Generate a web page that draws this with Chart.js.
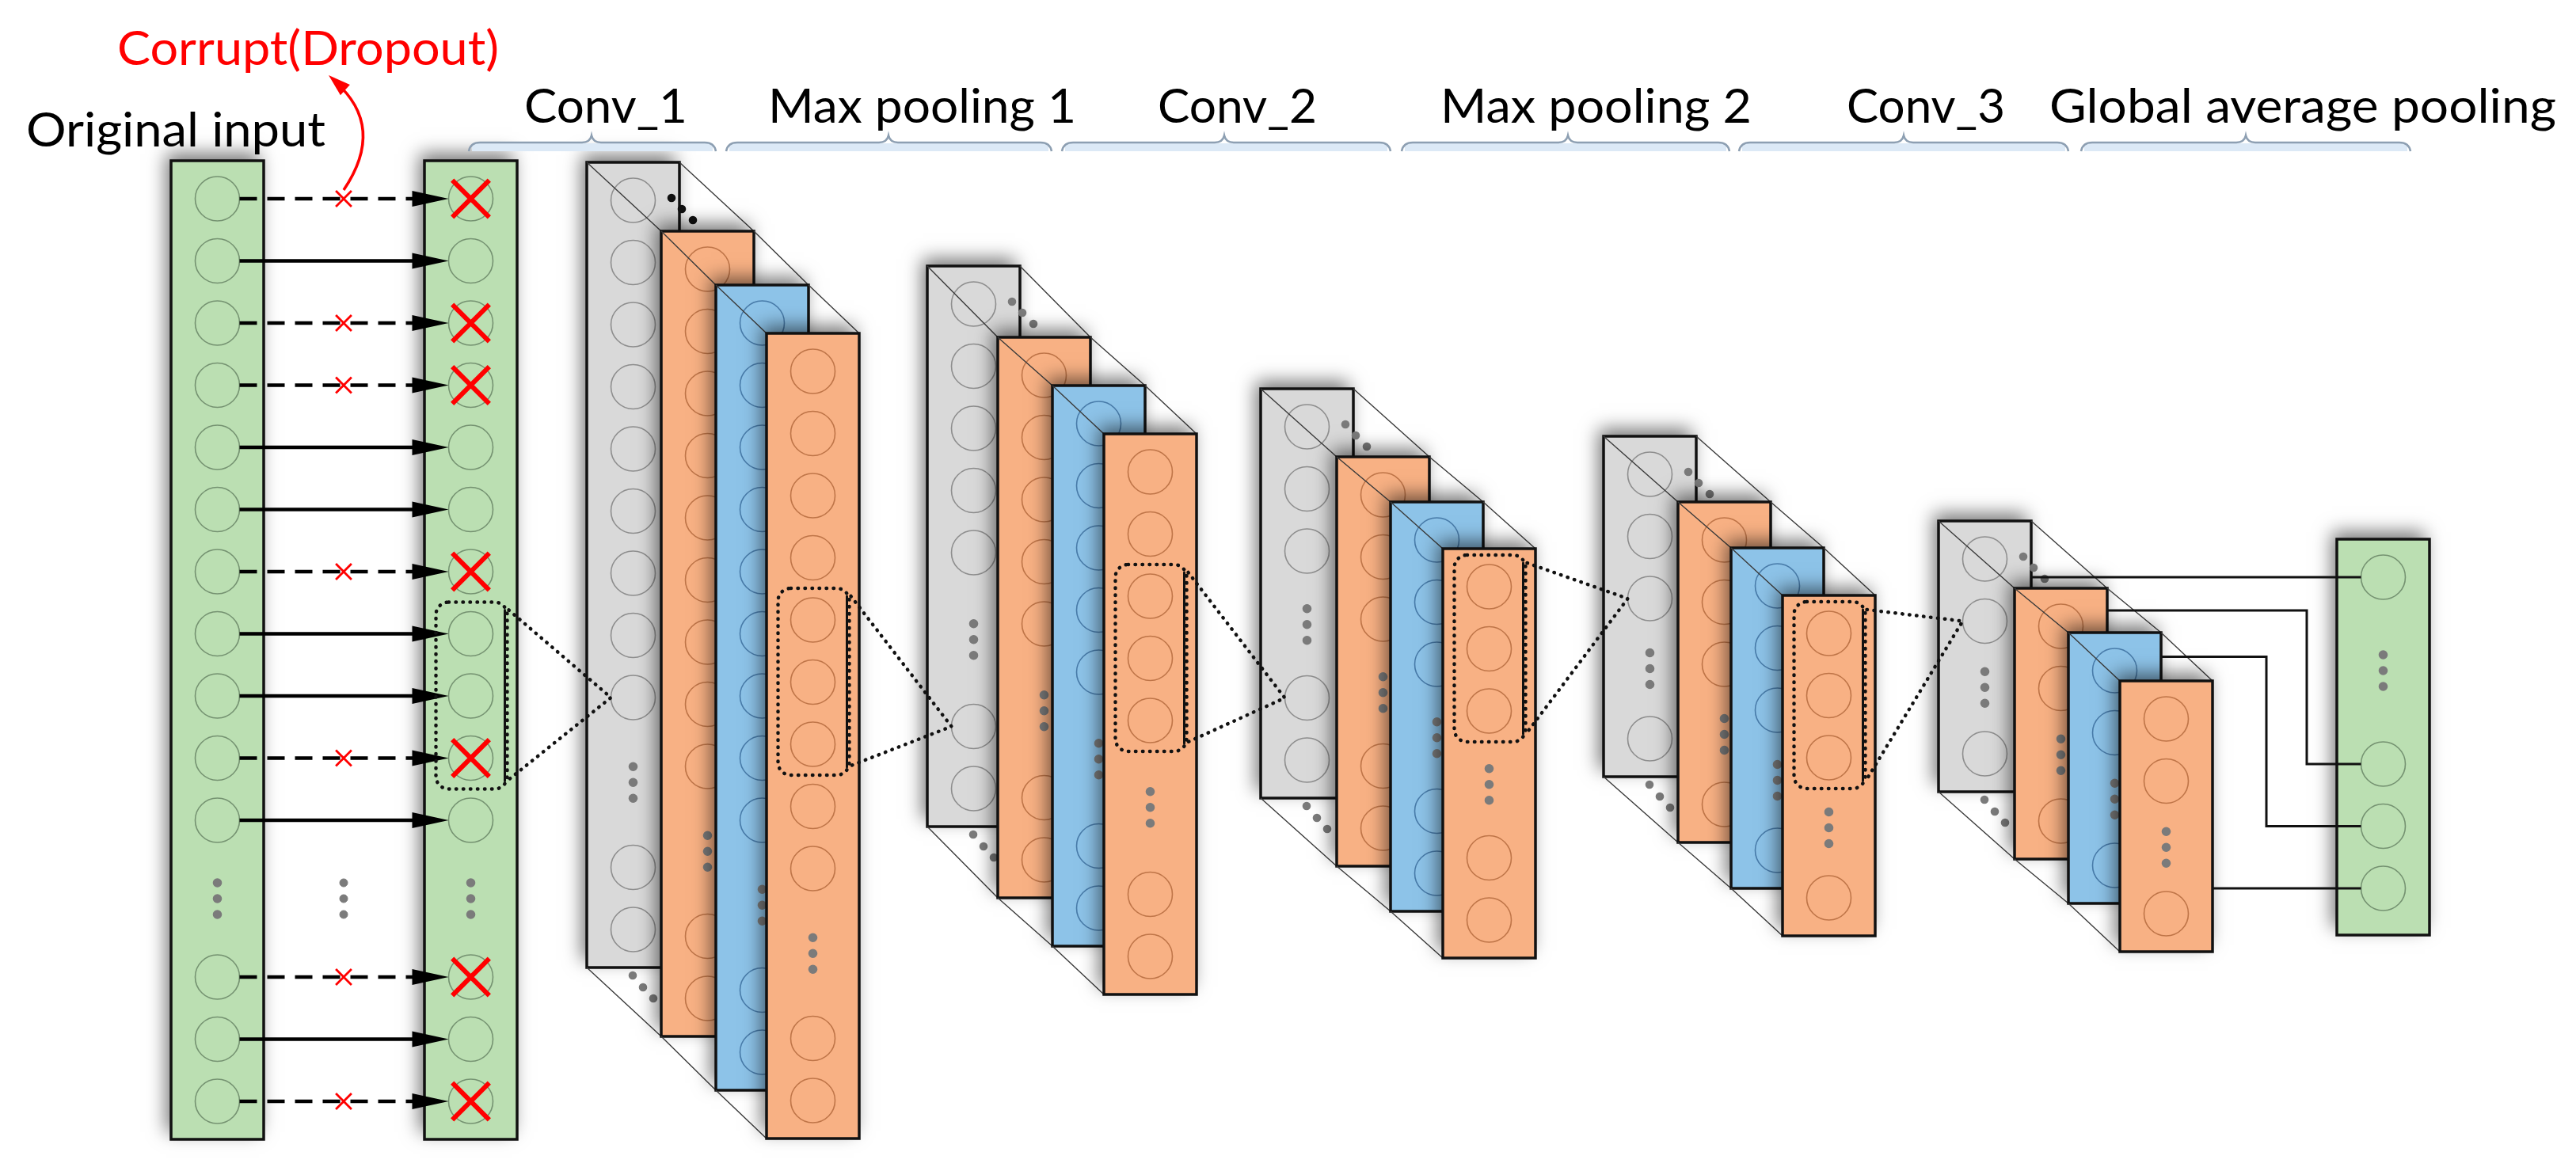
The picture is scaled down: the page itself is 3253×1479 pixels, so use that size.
<!DOCTYPE html>
<html>
<head>
<meta charset="utf-8">
<script src="https://cdn.jsdelivr.net/npm/chart.js@4.4.1/dist/chart.umd.min.js"></script>
<style>
html, body { margin: 0; padding: 0; background: #fff; overflow: hidden; }
canvas { display: block; }
</style>
</head>
<body>
<canvas id="net" width="3253" height="1479"></canvas>
<script>
'use strict';

// ---- what the figure shows ----
const headerLabels = ['Conv_1', 'Max pooling 1', 'Conv_2', 'Max pooling 2', 'Conv_3', 'Global average pooling'];
const inputLabel = 'Original input';
const corruptLabel = 'Corrupt(Dropout)';
const dropMask = [1, 0, 1, 1, 0, 0, 1, 0, 0, 1, 0, 1, 0, 1]; // 1 = node dropped
const inputNodes = [11, 3];                  // nodes above / below the dots
const layerKinds = ['gray', 'orange', 'blue', 'orange'];
const stackNodes = [[9, 2], [5, 2], [3, 2], [3, 1], [2, 1]];
const gapNodes = [1, 3];
const fieldFrom = [7, 4, 2, 0, 0];           // first of three nodes in the front map
const fieldTo = [8, 5, 3, 2, 1];             // node of the next grey map
const gapLinkLayer = [0, 1, 2, 3];
const gapLinkNode = [0, 1, 2, 3];

// ---- layout, in sheet pixels ----
const W = 3253, H = 1479;
const COL_W = 117, NODE_R = 28, NODE_GAP = 78.5, NODE_PAD = 48;
const inputBox = { x: 216, top: 203, bottom: 1439 };
const dropBox = { x: 536, top: 203, bottom: 1439 };
const markX = 434;
const stackX = [741, 1171, 1592, 2025, 2448];
const stackTop = [205, 336, 491, 551, 658];
const stackH = [1017, 708, 517, 430, 342];
const stackDX = [[0, 94, 163, 227], [0, 89, 158, 223], [0, 96, 164, 230], [0, 94, 161, 226], [0, 96, 164, 229]];
const stackDY = [[0, 87, 155, 216], [0, 90, 151, 212], [0, 86, 143, 202], [0, 83, 141, 201], [0, 85, 141, 202]];
const gapBox = { x: 2951, top: 681, bottom: 1181, padBottom: 59 };
const gapTurnX = [null, 2913, 2862, null];
const headerSpan = [[662, 868], [970, 1359], [1462, 1663], [1819, 2212], [2332, 2532], [2588, 3228]];
const braceSpan = [[592, 747, 904], [917, 1122, 1328], [1341, 1546, 1756], [1770, 1980, 2184], [2196, 2404, 2612], [2628, 2836, 3044]];

const STYLE = {
  fill: { green: '#bbdfb2', gray: '#d9d9d9', orange: '#f8b184', blue: '#8dc3e8' },
  ring: { green: 'rgba(70,95,70,0.6)', gray: 'rgba(80,80,80,0.55)', orange: 'rgba(160,85,40,0.65)', blue: 'rgba(35,85,135,0.65)' },
  dots: '#7b7b7b',
  font: 'Lato, "Open Sans", sans-serif'
};

function nodeYs(box, nodes) {
  const ys = [];
  for (let k = 0; k < nodes[0]; k++) ys.push(box.top + NODE_PAD + k * NODE_GAP);
  const pb = box.padBottom || NODE_PAD;
  for (let k = 0; k < nodes[1]; k++) ys.push(box.bottom - pb - (nodes[1] - 1 - k) * NODE_GAP);
  return { ys, dotsY: (ys[nodes[0] - 1] + ys[nodes[0]]) / 2 };
}

function columnDataset(box, nodes, kind) {
  const cx = box.x + COL_W / 2;
  const { ys, dotsY } = nodeYs(box, nodes);
  const data = [], radius = [], fill = [], edge = [];
  ys.forEach(y => { data.push({ x: cx, y }); radius.push(NODE_R); fill.push('rgba(0,0,0,0)'); edge.push(STYLE.ring[kind]); });
  [-20, 0, 20].forEach(d => { data.push({ x: cx, y: dotsY + d }); radius.push(5); fill.push(STYLE.dots); edge.push(STYLE.dots); });
  return {
    type: 'scatter', data, clip: false,
    pointStyle: 'circle', pointRadius: radius, pointBackgroundColor: fill,
    pointBorderColor: edge, pointBorderWidth: 1.6,
    box: { x: box.x, w: COL_W, top: box.top, bottom: box.bottom, fill: STYLE.fill[kind] },
    cx, ys
  };
}

// ---- build datasets in painting order ----
const paint = [];
const inputDs = columnDataset(inputBox, inputNodes, 'green');
const dropDs = columnDataset(dropBox, inputNodes, 'green');
paint.push(inputDs, dropDs);

const solid = [], dashed = [];
inputDs.ys.forEach((y, i) => {
  const seg = [{ x: inputDs.cx + NODE_R, y }, { x: dropDs.cx - NODE_R - 42, y }, { x: dropDs.cx, y: null }];
  (dropMask[i] ? dashed : solid).push(...seg);
});
const arrowDs = (data, dash) => ({
  type: 'line', data, clip: false, borderColor: '#000', borderWidth: 4.5, borderDash: dash,
  pointRadius: 0, spanGaps: false, tension: 0, fill: false, heads: true
});
paint.push(arrowDs(solid, []), arrowDs(dashed, [22, 13]));

const marks = [], markR = [], markW = [], markStyle = [], markCol = [];
inputDs.ys.forEach((y, i) => {
  if (!dropMask[i]) return;
  marks.push({ x: dropDs.cx, y }, { x: markX, y });
  markR.push(33, 14); markW.push(6, 2.8); markStyle.push('crossRot', 'crossRot'); markCol.push('#ff0000', '#ff0000');
});
const midDots = nodeYs(inputBox, inputNodes).dotsY;
[-20, 0, 20].forEach(d => { marks.push({ x: markX, y: midDots + d }); markR.push(5); markW.push(1); markStyle.push('circle'); markCol.push(STYLE.dots); });
paint.push({
  type: 'scatter', data: marks, clip: false, pointRadius: markR, pointBorderWidth: markW,
  pointStyle: markStyle, pointBorderColor: markCol, pointBackgroundColor: markCol
});

const stacks = [];
stackX.forEach((sx, s) => {
  const layers = [];
  layerKinds.forEach((kind, l) => {
    const top = stackTop[s] + stackDY[s][l];
    const box = { x: sx + stackDX[s][l], top, bottom: top + stackH[s] };
    const ds = columnDataset(box, stackNodes[s], kind);
    if (l > 0) ds.prevBox = layers[l - 1].box;
    if (l === 0) {
      // depth dots beside the grey map
      const tr = box.x + COL_W, col = s === 0 ? '#111' : STYLE.dots;
      [[-10, 45], [3, 59], [17, 73]].forEach(([dx, dy]) => {
        ds.data.push({ x: tr + dx, y: box.top + dy });
        ds.pointRadius.push(4.5); ds.pointBackgroundColor.push(col); ds.pointBorderColor.push(col);
      });
      [[58, 10], [71, 25], [84, 39]].forEach(([dx, dy]) => {
        ds.data.push({ x: box.x + dx, y: box.bottom + dy });
        ds.pointRadius.push(4.5); ds.pointBackgroundColor.push(STYLE.dots); ds.pointBorderColor.push(STYLE.dots);
      });
    }
    layers.push(ds);
    paint.push(ds);
  });
  stacks.push(layers);
});

const gapDs = columnDataset(gapBox, gapNodes, 'green');
paint.push(gapDs);

// last stack -> global average pooling
const last = stacks[stacks.length - 1];
const gapLines = [];
gapLinkLayer.forEach((li, k) => {
  const ds = last[li];
  const ny = gapDs.ys[gapLinkNode[k]];
  const x0 = ds.box.x + COL_W, x1 = gapDs.cx - NODE_R;
  if (gapTurnX[k] === null) {
    gapLines.push({ x: x0, y: ny }, { x: x1, y: ny });
  } else {
    const y0 = (ds.box.top + last[li + 1].box.top) / 2;
    gapLines.push({ x: x0, y: y0 }, { x: gapTurnX[k], y: y0 }, { x: gapTurnX[k], y: ny }, { x: x1, y: ny });
  }
  gapLines.push({ x: x1, y: null });
});
paint.push({ type: 'line', data: gapLines, clip: false, borderColor: '#111', borderWidth: 3, pointRadius: 0, spanGaps: false, tension: 0, fill: false });

// receptive fields: dotted box on three nodes, dotted wedge to next grey map
const fronts = [dropDs].concat(stacks.map(l => l[3]));
const fields = [], fieldLines = [];
fieldFrom.forEach((n, i) => {
  const src = fronts[i], dst = stacks[i][0];
  const f = { x0: src.cx - 44, x1: src.cx + 46, y0: src.ys[n] - 40, y1: src.ys[n + 2] + 39 };
  fields.push(f);
  const tx = dst.cx - NODE_R, ty = dst.ys[fieldTo[i]];
  fieldLines.push({ x: f.x1 + 2, y: f.y0 + 10 }, { x: tx, y: ty }, { x: f.x1 + 2, y: f.y1 - 12 }, { x: tx, y: null });
});
paint.push({
  type: 'line', data: fieldLines, clip: false, borderColor: '#111', borderWidth: 4.5,
  borderDash: [0.5, 8.5], borderCapStyle: 'round', pointRadius: 0, spanGaps: false, tension: 0, fill: false
});

paint.forEach((ds, i) => { ds.order = 200 - i; });

// ---- drawing helpers ----
function drawBox(chart, b) {
  const ctx = chart.ctx, X = chart.scales.x, Y = chart.scales.y;
  const x0 = X.getPixelForValue(b.x), x1 = X.getPixelForValue(b.x + b.w);
  const y0 = Y.getPixelForValue(b.top), y1 = Y.getPixelForValue(b.bottom);
  ctx.save();
  ctx.shadowColor = 'rgba(0,0,0,0.55)';
  ctx.shadowBlur = 22;
  ctx.shadowOffsetX = -6;
  ctx.shadowOffsetY = -9;
  ctx.fillStyle = b.fill;
  ctx.fillRect(x0, y0, x1 - x0, y1 - y0);
  ctx.restore();
  ctx.save();
  ctx.lineWidth = 3.5;
  ctx.strokeStyle = '#111';
  ctx.strokeRect(x0, y0, x1 - x0, y1 - y0);
  ctx.restore();
}

function perspective(chart, a, b) {
  const ctx = chart.ctx, X = chart.scales.x, Y = chart.scales.y;
  const seg = (xa, ya, xb, yb) => {
    ctx.moveTo(X.getPixelForValue(xa), Y.getPixelForValue(ya));
    ctx.lineTo(X.getPixelForValue(xb), Y.getPixelForValue(yb));
  };
  ctx.save();
  ctx.strokeStyle = '#3a3a3a';
  ctx.lineWidth = 1.4;
  ctx.beginPath();
  seg(a.x, a.top, b.x, b.top);
  seg(a.x + COL_W, a.top, b.x + COL_W, b.top);
  seg(a.x, a.bottom, b.x, b.bottom);
  ctx.stroke();
  ctx.restore();
}

function fittedText(chart, text, xa, xb, base, size, color) {
  const ctx = chart.ctx, X = chart.scales.x, Y = chart.scales.y;
  const x0 = X.getPixelForValue(xa), x1 = X.getPixelForValue(xb);
  ctx.save();
  ctx.font = size + 'px ' + STYLE.font;
  ctx.fillStyle = color;
  ctx.textBaseline = 'alphabetic';
  const w = ctx.measureText(text).width;
  ctx.translate(x0, Y.getPixelForValue(base));
  ctx.scale((x1 - x0) / w, 1);
  ctx.fillText(text, 0, 0);
  ctx.restore();
}

const diagram = {
  id: 'diagram',
  beforeDatasetDraw(chart, args) {
    const ds = chart.data.datasets[args.index];
    if (!ds.box) return;
    if (ds.prevBox) perspective(chart, ds.prevBox, ds.box);
    drawBox(chart, ds.box);
  },
  afterDatasetDraw(chart, args) {
    const ds = chart.data.datasets[args.index];
    if (!ds.heads) return;
    const ctx = chart.ctx;
    const pts = args.meta.data;
    ctx.save();
    ctx.fillStyle = '#000';
    for (let i = 1; i < pts.length; i += 3) {
      const p = pts[i];
      ctx.beginPath();
      ctx.moveTo(p.x - 4, p.y - 10);
      ctx.lineTo(p.x + 42, p.y);
      ctx.lineTo(p.x - 4, p.y + 10);
      ctx.closePath();
      ctx.fill();
    }
    ctx.restore();
  },
  afterDraw(chart) {
    const ctx = chart.ctx, X = chart.scales.x, Y = chart.scales.y;
    const px = v => X.getPixelForValue(v), py = v => Y.getPixelForValue(v);

    // dotted receptive-field boxes
    fields.forEach(f => {
      ctx.save();
      ctx.strokeStyle = '#111';
      ctx.lineWidth = 4.5;
      ctx.lineCap = 'round';
      ctx.setLineDash([0.5, 8.5]);
      ctx.beginPath();
      ctx.roundRect(px(f.x0), py(f.y0), px(f.x1) - px(f.x0), py(f.y1) - py(f.y0), 16);
      ctx.stroke();
      ctx.setLineDash([]);
      ctx.lineWidth = 3;
      ctx.beginPath();
      ctx.moveTo(px(f.x1 - 3), py(f.y0 + 10));
      ctx.lineTo(px(f.x1 - 3), py(f.y1 - 10));
      ctx.stroke();
      ctx.restore();
    });

    // braces
    braceSpan.forEach(([a, tip, b]) => {
      ctx.save();
      ctx.fillStyle = '#dce9f6';
      ctx.fillRect(px(a + 4), py(181), px(b - 4) - px(a + 4), 10);
      ctx.strokeStyle = '#8d9fb2';
      ctx.lineWidth = 2.5;
      ctx.beginPath();
      ctx.moveTo(px(a), py(191));
      ctx.quadraticCurveTo(px(a + 2), py(180), px(a + 14), py(180));
      ctx.lineTo(px(tip - 12), py(180));
      ctx.quadraticCurveTo(px(tip - 2), py(180), px(tip), py(171));
      ctx.quadraticCurveTo(px(tip + 2), py(180), px(tip + 12), py(180));
      ctx.lineTo(px(b - 14), py(180));
      ctx.quadraticCurveTo(px(b - 2), py(180), px(b), py(191));
      ctx.stroke();
      ctx.restore();
    });

    headerLabels.forEach((t, i) => fittedText(chart, t, headerSpan[i][0], headerSpan[i][1], 155, 60, '#000'));
    fittedText(chart, inputLabel, 33, 411, 185, 60, '#000');
    fittedText(chart, corruptLabel, 148, 630, 82, 60, '#ff0000');

    // red arc from the first dropped link up to the label
    const s = [markX, 240], c = [488, 160], e = [415, 95];
    ctx.save();
    ctx.strokeStyle = '#ff0000';
    ctx.fillStyle = '#ff0000';
    ctx.lineWidth = 3.5;
    ctx.beginPath();
    ctx.moveTo(px(s[0]), py(s[1]));
    ctx.quadraticCurveTo(px(c[0]), py(c[1]), px(e[0] + 8), py(e[1] + 8));
    ctx.stroke();
    const ang = Math.atan2(py(e[1]) - py(c[1]), px(e[0]) - px(c[0]));
    ctx.translate(px(e[0]), py(e[1]));
    ctx.rotate(ang);
    ctx.beginPath();
    ctx.moveTo(0, 0);
    ctx.lineTo(-28, -9);
    ctx.lineTo(-28, 9);
    ctx.closePath();
    ctx.fill();
    ctx.restore();
  }
};

new Chart(document.getElementById('net'), {
  type: 'scatter',
  data: { datasets: paint },
  plugins: [diagram],
  options: {
    responsive: false,
    animation: false,
    devicePixelRatio: 1,
    events: [],
    layout: { padding: 0, autoPadding: false },
    scales: {
      x: { type: 'linear', min: 0, max: W, display: false },
      y: { type: 'linear', min: 0, max: H, reverse: true, display: false }
    },
    plugins: { legend: { display: false }, tooltip: { enabled: false } }
  }
});
</script>
</body>
</html>
